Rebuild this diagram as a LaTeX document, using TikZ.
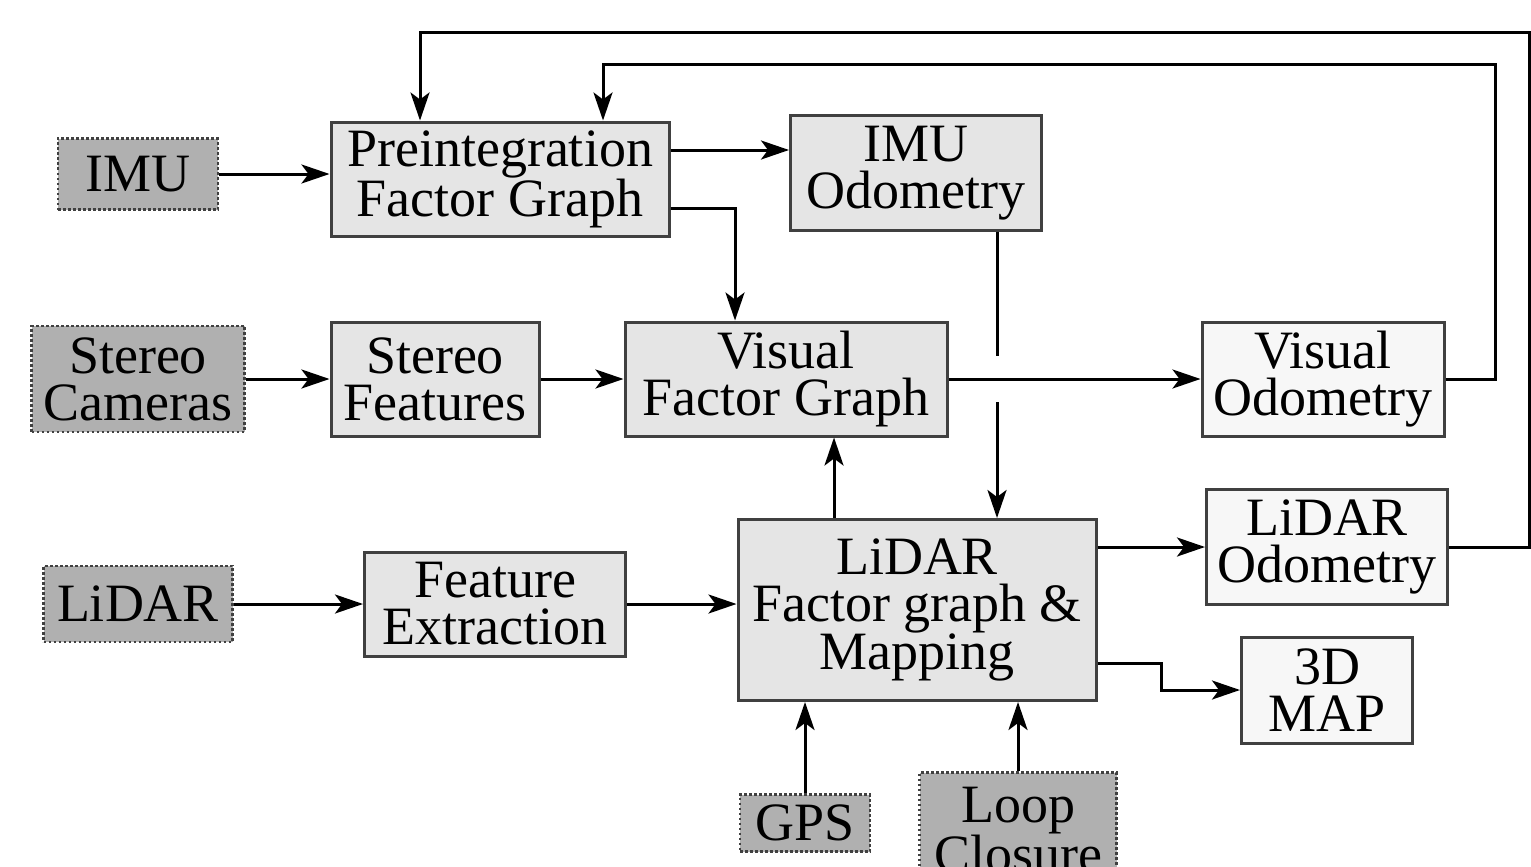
\documentclass[tikz,border=0pt]{standalone}
\usepackage{fontspec}
\setmainfont{Liberation Serif}
\usetikzlibrary{arrows.meta,positioning}

\begin{document}
\begin{tikzpicture}[x=1pt, y=-1pt,
every node/.style={font=\fontsize{54}{47}\selectfont, align=center, inner sep=0pt},
sensor/.style={draw=black!75, fill=black!31, line width=2.6pt, dash pattern=on 2.6pt off 2.4pt},
block/.style={draw=black!75, fill=black!10, line width=3pt},
result/.style={draw=black!75, fill=black!3, line width=3pt},
link/.style={line width=3pt, -{Stealth[length=28pt, width=19pt, inset=7pt]}}]
\useasboundingbox (0,0) rectangle (1531,867);

% sensors
\node[sensor, minimum width=160, minimum height=71] (imu) at (138,174) {IMU};
\node[sensor, minimum width=213, minimum height=106] (cams) at (138,379) {Stereo\\Cameras};
\node[sensor, minimum width=189, minimum height=76] (lidar) at (138,604) {LiDAR};
\node[sensor, minimum width=130, minimum height=57] (gps) at (805,823) {GPS};
\node[sensor, minimum width=197, minimum height=115] (loop) at (1018,830) {Loop\\Closure};

% processing
\node[block, minimum width=338, minimum height=114] (preint) at (500,179) {Preintegration\\Factor Graph};
\node[block, minimum width=251, minimum height=115] (imuodo) at (916,173) {IMU\\Odometry};
\node[block, minimum width=208, minimum height=114] (stfeat) at (435,379) {Stereo\\Features};
\node[block, minimum width=322, minimum height=114] (visfg) at (786,379) {Visual\\Factor Graph};
\node[block, minimum width=261, minimum height=104] (featex) at (495,604) {Feature\\Extraction};
\node[block, minimum width=358, minimum height=181] (lidarfg) at (917,610) {LiDAR\\Factor graph \&\\Mapping};

% outputs
\node[result, minimum width=242, minimum height=114] (visodo) at (1323,379) {Visual\\Odometry};
\node[result, minimum width=241, minimum height=115] (lidarodo) at (1327,547) {LiDAR\\Odometry};
\node[result, minimum width=171, minimum height=106] (map) at (1327,690) {3D\\MAP};

% IMU branch
\draw[link] (imu.east) -- (imu.east -| preint.west);
\draw[link] ([yshift=29pt]preint.east) -- ([yshift=29pt]preint.east -| imuodo.west);
\draw[link] ([yshift=-29pt]preint.east) -| ([xshift=-51pt]visfg.north);
\draw[link] ([xshift=-46pt]imuodo.south east) -- ([xshift=-46pt]imuodo.south east |- lidarfg.north);
\coordinate (hop) at ([xshift=-46pt]imuodo.south east |- visfg.east);
\fill[white] ([shift={(-6pt,-23pt)}]hop) rectangle ([shift={(6pt,23pt)}]hop);

% camera branch
\draw[link] (cams) -- (stfeat);
\draw[link] (stfeat) -- (visfg);
\draw[link] (visfg) -- (visodo);
\draw[link] (visodo.east) -- ++(50,0) -- ++(0,-314) -| ([xshift=103pt]preint.north);

% lidar branch
\draw[link] (lidar) -- (featex);
\draw[link] (featex.east) -- (featex.east -| lidarfg.west);
\draw[link] ([xshift=-83pt]lidarfg.north) -- ([xshift=-83pt]lidarfg.north |- visfg.south);
\draw[link] ([yshift=63pt]lidarfg.east) -- (lidarodo.west);
\draw[link] ([yshift=-53pt]lidarfg.east) -- ++(64,0) |- (map.west);
\draw[link] (lidarodo.east) -- ++(80,0) -- ++(0,-514) -| ([xshift=-80pt]preint.north);
\draw[link] (gps) -- (gps |- lidarfg.south);
\draw[link] (loop.north) -- (loop.north |- lidarfg.south);
\end{tikzpicture}
\end{document}
